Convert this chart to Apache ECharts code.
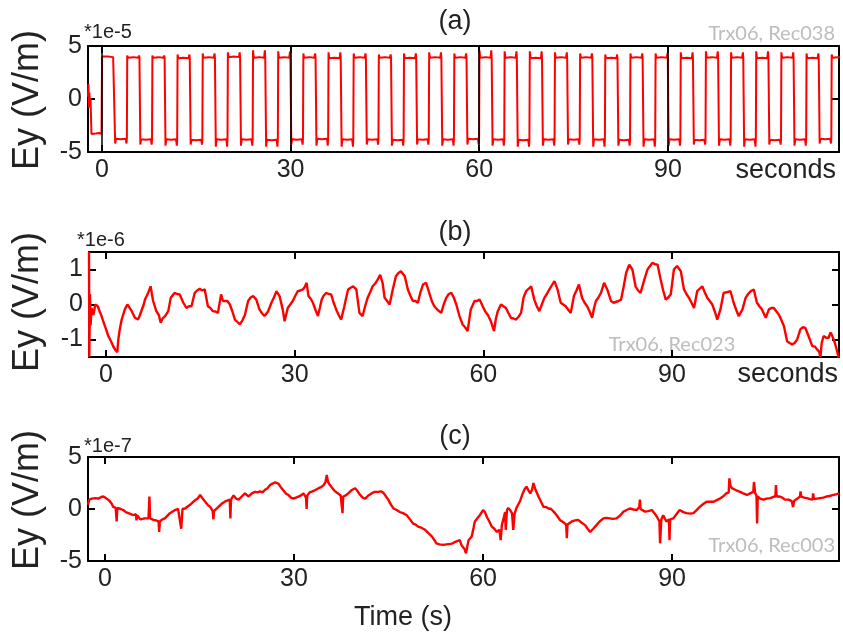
<!DOCTYPE html>
<html><head><meta charset="utf-8">
<script src="https://cdn.jsdelivr.net/npm/echarts@6/dist/echarts.min.js"></script>
<style>html,body{margin:0;padding:0;background:#fff}#c{width:843px;height:641px}</style>
</head><body><div id="c"></div>
<script>
// ---------- tick labels ----------
const xTicks = [0, 30, 60, 90];
const yTicksA = [-5, 0, 5];
const yTicksB = [-1, 0, 1];
const yTicksC = [-5, 0, 5];
const aGuides = [0, 30, 60, 90];

// ---------- panel (a): square-wave transmitter signal (units 1e-5 V/m) ----------
const aStartT = [-2.2, -2.12, -2.05, -1.98, -1.9, -1.8, -1.65, -1.0, -0.4, -0.05];
const aStartV = [0.2, 1.4, -0.8, 0.6, -0.3, 0.1, -3.3, -3.25, -3.2, -3.3];
const aRise = [0, 4, 8, 12, 16, 20, 24, 28, 32, 36, 40, 44, 48, 52, 56, 60, 64, 68, 72, 76, 80, 84, 88, 92, 96, 100, 104, 108, 112, 116];
const aFall = [2, 6, 10, 14, 18, 22, 26, 30, 34, 38, 42, 46, 50, 54, 58, 62, 66, 70, 74, 78, 82, 86, 90, 94, 98, 102, 106, 110, 114, 118];
const aHigh = [3.95, 3.9, 3.9, 3.85, 3.9, 3.95, 3.9, 3.9, 3.9, 3.85, 3.9, 3.9, 3.85, 3.9, 3.9, 3.9, 3.9, 3.85, 3.9, 3.9, 3.85, 3.9, 3.9, 3.85, 3.9, 3.9, 3.85, 3.9, 3.85, 3.9];
const aHighPeak = [4.0, 4.1, 4.1, 4.2, 4.3, 4.4, 4.6, 4.5, 4.3, 4.4, 4.3, 4.2, 4.3, 4.4, 4.3, 4.6, 4.5, 4.5, 4.4, 4.3, 4.2, 4.3, 4.3, 4.4, 4.5, 4.4, 4.5, 4.4, 4.3, 4.2];
const aLow = [-3.75, -3.8, -3.8, -3.85, -3.8, -3.8, -3.85, -3.8, -3.75, -3.8, -3.8, -3.85, -3.8, -3.8, -3.75, -3.8, -3.85, -3.8, -3.8, -3.8, -3.85, -3.8, -3.8, -3.85, -3.8, -3.8, -3.85, -3.8, -3.75, -3.8];
const aLowPeak = [-4.2, -4.3, -4.4, -4.3, -4.5, -4.4, -4.5, -4.3, -4.4, -4.5, -4.3, -4.4, -4.3, -4.4, -4.3, -4.4, -4.5, -4.4, -4.3, -4.5, -4.4, -4.5, -4.4, -4.3, -4.4, -4.5, -4.3, -4.4, -4.2, -4.3];

// ---------- panel (b): Rec023 (units 1e-6 V/m) ----------
const bT = [-2.7,-2.65,-2.55,-2.45,-2.3,-2.0,-1.7,-1.3,-1.0,-0.7,-0.4,-0.16,0.37,0.8,1.16,1.5,1.8,1.96,2.2,2.5,3.0,3.4,3.7,4.1,4.6,5.1,5.4,5.7,6.0,6.2,6.7,7.1,7.3,7.5,8.0,8.4,8.7,9.0,9.4,9.9,10.3,10.9,11.3,11.7,12.3,12.8,13.2,13.6,14.1,14.5,14.9,15.3,15.7,16.2,16.6,17.0,17.4,17.8,18.3,18.6,18.9,19.3,19.7,20.1,20.5,20.9,21.3,21.7,22.1,22.6,23.0,23.4,23.9,24.4,24.8,25.2,25.8,26.3,26.7,27.1,27.6,28.1,28.4,28.9,29.3,29.7,30.1,30.5,30.9,31.3,31.6,31.9,32.2,32.6,32.9,33.3,33.7,34.0,34.3,34.6,35.0,35.4,35.8,36.2,36.6,37.0,37.4,37.9,38.2,38.5,38.9,39.3,39.8,40.3,40.8,41.2,41.6,42.0,42.4,42.8,43.2,43.6,43.8,44.0,44.3,44.7,45.1,45.6,46.1,46.5,46.9,47.2,47.5,48.0,48.4,48.8,49.2,49.6,50.0,50.4,50.9,51.4,51.8,52.2,52.7,53.3,53.7,54.1,54.5,54.9,55.3,55.7,56.2,56.7,57.1,57.5,58.0,58.6,59.0,59.4,59.9,60.3,60.7,61.2,61.7,62.0,62.3,62.8,63.2,63.6,64.0,64.4,64.8,65.2,65.6,66.0,66.4,66.8,67.2,67.6,68.1,68.5,68.9,69.3,69.7,70.1,70.5,70.9,71.3,71.8,72.3,72.7,73.1,73.5,73.9,74.4,74.8,75.2,75.7,76.1,76.5,76.9,77.3,77.6,77.9,78.3,78.7,79.2,79.7,80.3,80.7,81.0,81.5,81.9,82.3,82.7,83.2,83.7,84.2,84.6,85.0,85.6,86.1,86.5,86.9,87.3,87.7,88.2,88.6,89.0,89.4,89.8,90.3,90.8,91.4,91.9,92.3,92.7,93.1,93.5,94.0,94.4,94.8,95.2,95.6,96.0,96.4,96.8,97.2,97.7,98.2,98.7,99.3,99.8,100.2,100.6,101.2,101.7,102.1,102.5,103.0,103.5,103.9,104.3,104.9,105.4,105.8,106.2,106.6,107.0,107.4,107.8,108.3,108.7,109.1,109.5,109.9,110.4,110.8,111.2,111.7,112.3,112.7,113.1,113.4,113.6,113.8,114.1,114.5,114.9,115.2,115.4,115.9,116.2,116.5];
const bV = [1.5,-1.5,0.3,-0.6,-0.1,-0.3,0.0,-0.05,-0.2,-0.33,-0.5,-0.62,-0.9,-1.05,-1.2,-1.3,-1.36,-1.0,-0.7,-0.43,-0.14,0.0,-0.05,-0.19,-0.38,-0.43,-0.3,-0.33,0.0,0.14,0.33,0.52,0.3,0.1,-0.19,-0.3,-0.52,-0.4,-0.33,-0.19,0.19,0.33,0.3,0.29,0.05,-0.1,-0.05,-0.05,0.33,0.4,0.45,0.4,0.43,-0.05,-0.1,-0.19,-0.2,-0.24,0.29,0.1,0.05,0.1,0.0,-0.2,-0.43,-0.5,-0.57,-0.45,-0.29,0.1,0.2,0.24,0.14,-0.14,-0.25,-0.33,-0.19,0.05,0.2,0.38,0.24,-0.14,-0.48,-0.1,0.0,0.1,0.25,0.38,0.4,0.43,0.5,0.62,0.24,0.15,0.05,-0.15,-0.33,-0.1,0.14,0.25,0.33,0.3,0.29,0.05,-0.14,-0.3,-0.43,-0.05,0.2,0.43,0.48,0.52,0.43,-0.24,-0.33,-0.05,0.19,0.35,0.52,0.6,0.71,0.85,0.9,0.6,0.19,0.1,0.0,0.43,0.81,0.9,0.95,0.9,0.81,0.43,0.25,0.1,0.1,0.05,0.35,0.57,0.62,0.33,0.1,-0.05,-0.15,-0.24,0.0,0.19,0.3,0.33,0.2,0.0,-0.33,-0.57,-0.65,-0.76,-0.14,0.1,0.1,0.14,-0.05,-0.2,-0.29,-0.48,-0.76,-0.4,-0.19,0.0,-0.05,-0.1,-0.25,-0.38,-0.4,-0.43,-0.35,-0.24,0.2,0.38,0.45,0.52,0.14,-0.05,-0.19,0.0,0.19,0.3,0.43,0.55,0.67,0.43,0.05,0.0,-0.05,-0.15,-0.24,0.24,0.4,0.57,0.19,0.05,-0.05,-0.2,-0.38,-0.1,0.1,0.2,0.33,0.62,0.43,0.1,0.05,0.0,0.1,0.14,0.5,0.9,1.14,1.0,0.52,0.4,0.33,0.71,1.0,1.1,1.19,1.15,1.14,0.71,0.4,0.14,0.2,0.29,1.0,1.1,0.95,0.43,0.3,0.19,0.05,-0.1,0.38,0.45,0.52,0.35,0.19,0.1,0.0,-0.2,-0.43,-0.14,0.33,0.35,0.38,0.05,-0.15,-0.33,-0.14,0.19,0.3,0.38,0.43,0.05,-0.05,-0.14,-0.38,-0.14,-0.1,-0.1,-0.2,-0.29,-0.45,-0.62,-1.05,-1.1,-1.14,-1.1,-1.0,-0.71,-0.65,-0.67,-0.9,-1.19,-1.2,-1.29,-1.35,-1.5,-1.1,-0.9,-0.95,-0.95,-0.8,-0.86,-1.1,-1.3,-1.52];

// ---------- panel (c): Rec003 (units 1e-7 V/m) ----------
const cT = [-2.7,-2.5,-2.1,-1.5,-1.06,-0.6,-0.26,0.26,0.7,1.06,1.3,1.7,1.85,1.95,2.1,2.5,2.9,3.3,3.7,4.1,4.5,4.9,5.0,5.1,5.6,6.3,6.9,7.05,7.15,7.7,8.1,8.5,8.6,8.7,9.1,9.5,10.3,11.1,11.6,11.9,12.1,12.3,12.7,13.5,14.3,14.7,15.1,15.5,15.9,16.3,16.7,17.1,17.2,17.3,18.0,18.5,19.0,19.4,19.8,19.9,20.0,20.4,20.8,21.2,21.7,22.2,22.8,23.3,23.8,24.2,24.6,25.0,25.4,25.8,26.2,26.6,27.0,27.5,27.9,28.3,28.7,29.1,29.5,29.9,30.3,30.7,31.1,31.5,31.9,32.0,32.1,32.5,32.8,33.3,33.9,34.3,34.7,35.0,35.2,35.4,35.7,36.1,36.5,37.0,37.4,37.6,37.7,37.8,38.2,38.6,39.1,39.7,40.1,40.5,40.9,41.3,41.8,42.3,42.8,43.4,43.8,44.2,44.6,45.0,45.4,45.8,46.3,46.8,47.3,47.9,48.4,48.9,49.3,49.7,50.2,50.8,51.3,51.9,52.3,52.6,53.1,53.7,54.2,54.8,55.2,55.6,55.9,56.3,56.6,56.9,57.1,57.3,57.5,57.7,58.2,58.5,58.7,59.1,59.5,60.0,60.3,60.6,61.0,61.4,61.8,62.2,62.6,62.8,63.0,63.2,63.5,63.6,63.8,64.0,64.3,64.6,64.8,65.0,65.3,65.6,65.9,66.3,66.6,66.9,67.2,67.5,67.8,68.0,68.3,68.8,69.2,69.6,70.0,70.4,70.8,71.2,71.7,72.2,72.8,73.2,73.3,73.4,74.1,74.6,75.1,75.6,76.2,76.6,77.0,77.5,78.0,78.5,79.1,79.6,80.1,80.6,81.2,81.8,82.3,82.8,83.3,83.9,84.4,84.8,84.9,85.0,85.7,86.2,86.8,87.2,87.6,88.0,88.1,88.3,88.6,89.1,89.5,89.6,89.7,90.2,90.7,91.2,91.8,92.3,92.9,93.4,93.9,94.4,95.0,95.5,96.0,96.6,97.1,97.6,98.1,98.6,99.0,99.1,99.3,99.5,100.2,100.8,101.3,101.9,102.4,102.9,103.0,103.2,103.4,103.5,103.6,104.0,104.5,105.0,105.6,106.0,106.4,106.5,106.6,107.1,107.5,107.9,108.5,109.0,109.2,109.4,109.9,110.3,110.4,110.5,111.0,111.4,111.9,112.3,112.4,112.5,113.0,113.5,114.0,114.5,115.0,115.6,116.0,116.5];
const cV = [0.4,0.9,1.0,1.05,1.0,1.15,1.2,1.0,0.8,0.5,0.2,0.1,-1.2,0.1,0.2,0.0,-0.1,-0.3,-0.4,-0.5,-0.6,-0.5,-1.1,-0.6,-1.0,-0.9,-0.9,1.2,-0.9,-1.05,-1.1,-1.2,-2.2,-1.2,-1.0,-0.9,-0.4,-0.1,0.0,0.1,-1.9,0.0,0.05,0.4,0.85,1.0,1.35,1.0,0.7,0.4,0.2,-0.2,-1.0,-0.2,0.2,0.5,0.7,0.8,0.9,-0.9,0.9,1.3,1.0,0.9,1.2,1.5,1.2,1.5,1.65,1.6,1.7,1.6,1.85,2.0,2.3,2.45,2.55,2.45,2.1,1.8,1.5,1.35,1.1,1.0,1.1,1.2,1.3,1.5,1.1,0.0,1.3,1.6,1.7,1.8,2.0,2.1,2.3,2.6,3.27,2.6,2.3,2.0,1.7,1.5,1.3,1.2,-0.4,1.2,1.3,1.5,1.8,2.0,1.7,1.35,1.1,1.0,1.3,1.5,1.65,1.65,1.7,1.55,1.2,0.85,0.4,0.05,-0.1,-0.3,-0.4,-0.6,-1.0,-1.4,-1.5,-1.7,-1.8,-2.0,-2.3,-2.65,-3.0,-3.3,-3.4,-3.45,-3.4,-3.35,-3.3,-3.15,-3.3,-3.0,-3.5,-3.5,-3.9,-4.26,-3.6,-3.0,-2.65,-1.8,-1.2,-0.9,-0.6,-0.1,-0.3,-0.75,-1.2,-1.7,-1.9,-2.2,-2.0,-3.0,-1.5,-1.05,-0.3,-2.0,-0.1,0.1,-0.1,-0.4,-2.0,-0.5,0.1,0.0,0.8,1.5,1.9,2.15,1.8,1.5,1.9,2.5,1.9,1.2,0.7,0.2,0.2,0.05,0.0,-0.25,-0.6,-1.05,-1.3,-1.5,-2.8,-1.5,-1.2,-1.1,-1.05,-1.3,-1.55,-1.9,-2.2,-1.9,-1.55,-1.2,-0.9,-0.85,-0.9,-0.95,-0.9,-0.6,-0.25,-0.1,0.05,-0.05,-0.1,0.2,0.9,0.0,-0.25,-0.2,-0.1,-0.4,-0.75,-1.2,-3.3,-1.0,-0.6,-1.2,-1.0,-3.0,-1.0,-0.9,-0.5,-0.1,-0.3,-0.4,-0.45,-0.4,-0.1,0.2,0.5,0.7,0.7,0.7,0.85,1.0,1.2,1.5,1.6,2.95,2.2,2.0,1.8,1.65,1.5,1.35,1.5,1.65,2.6,1.5,1.3,-1.4,1.2,1.0,0.9,1.0,1.05,1.15,1.2,2.3,1.2,1.2,1.1,0.9,0.9,0.75,0.2,0.8,1.0,1.2,1.7,1.2,1.1,1.05,0.95,0.9,1.5,0.95,1.0,1.05,1.1,1.2,1.25,1.35,1.4,1.5];

// ---------- build series data ----------
function buildA() {
  const d = [];
  for (let i = 0; i < aStartT.length; i++) d.push([aStartT[i], aStartV[i]]);
  for (let i = 0; i < aRise.length; i++) {
    const r = aRise[i], f = aFall[i], H = aHigh[i], L = aLow[i], Hp = aHighPeak[i], Lp = aLowPeak[i];
    const nr = i + 1 < aRise.length ? aRise[i + 1] : f + 2;
    d.push([r + 0.04, Hp], [r + 0.15, H], [r + 1.0, H + 0.05], [f - 0.2, H], [f - 0.08, Hp], [f - 0.02, H],
           [f + 0.12, Lp], [f + 0.25, L], [f + 1.0, L - 0.05], [nr - 0.2, L], [nr - 0.08, Lp], [nr - 0.02, L]);
  }
  return d;
}
const zip = (t, v) => t.map((x, i) => [x, v[i]]);

const FONT = '"Liberation Sans", Arial, sans-serif';
const grids = [
  { left: 88, top: 46, width: 751, height: 106 },
  { left: 89, top: 252, width: 750, height: 105 },
  { left: 88, top: 457, width: 751, height: 104 }
];
const xr = [[-2.2, 117.2], [-2.7, 116.55], [-2.7, 116.5]];
const yr = [[-5, 5], [-1.5, 1.5], [-5, 5]];
const yt = [yTicksA, yTicksB, yTicksC];

const xAxes = [], yAxes = [];
const lineCol = { color: '#000', width: 2 };
for (let g = 0; g < 3; g++) {
  const tickLen = 7;
  xAxes.push({
    gridIndex: g, type: 'value', min: xr[g][0], max: xr[g][1], position: 'bottom',
    axisLine: { show: true, onZero: false, lineStyle: lineCol },
    axisTick: { show: true, inside: true, length: tickLen, customValues: xTicks, lineStyle: lineCol },
    axisLabel: { show: true, customValues: xTicks, fontSize: 25, color: '#222', fontFamily: FONT, margin: 6 },
    splitLine: { show: false }
  });
  xAxes.push({
    gridIndex: g, type: 'value', min: xr[g][0], max: xr[g][1], position: 'top',
    axisLine: { show: true, onZero: false, lineStyle: lineCol },
    axisTick: { show: true, inside: true, length: tickLen, customValues: xTicks, lineStyle: lineCol },
    axisLabel: { show: false }, splitLine: { show: false }
  });
  yAxes.push({
    gridIndex: g, type: 'value', min: yr[g][0], max: yr[g][1], position: 'left',
    axisLine: { show: true, onZero: false, lineStyle: lineCol },
    axisTick: { show: true, inside: true, length: tickLen, customValues: yt[g], lineStyle: lineCol },
    axisLabel: { show: true, customValues: yt[g], fontSize: 25, color: '#222', fontFamily: FONT, margin: 6 },
    splitLine: { show: false }
  });
  yAxes.push({
    gridIndex: g, type: 'value', min: yr[g][0], max: yr[g][1], position: 'right',
    axisLine: { show: true, onZero: false, lineStyle: lineCol },
    axisTick: { show: true, inside: true, length: tickLen, customValues: yt[g], lineStyle: lineCol },
    axisLabel: { show: false }, splitLine: { show: false }
  });
}

const lineSeries = (g, data, w, extra) => Object.assign({
  type: 'line', xAxisIndex: g * 2, yAxisIndex: g * 2, data: data,
  showSymbol: false, symbol: 'none', clip: true, animation: false,
  lineStyle: { color: '#ff0000', width: w }, emphasis: { disabled: true }
}, extra || {});

const txt = (text, x, y, size, opt) => Object.assign({
  type: 'text', x: x, y: y, silent: true,
  style: Object.assign({ text: text, font: size + 'px ' + FONT, fill: '#222',
    align: 'center', textAlign: 'center', verticalAlign: 'middle', textVerticalAlign: 'middle' }, (opt && opt.style) || {})
}, (opt && opt.el) || {});

const grayStyle = (al) => ({ style: { font: '20px Lato, "Open Sans", sans-serif', fill: '#bdbdbd', align: al, textAlign: al } });
const leftStyle = { style: { align: 'left', textAlign: 'left' } };
const rightStyle = { style: { align: 'right', textAlign: 'right' } };
const vert = { el: { rotation: Math.PI / 2 } };

const graphics = [
  txt('Ey (V/m)', 28, 100, 36, vert),
  txt('Ey (V/m)', 28, 302, 36, vert),
  txt('Ey (V/m)', 28, 500, 36, vert),
  txt('(a)', 455, 22, 27),
  txt('(b)', 455, 233, 27),
  txt('(c)', 455, 437, 27),
  txt('*1e-5', 84, 32, 20, leftStyle),
  txt('*1e-6', 77, 240, 20, leftStyle),
  txt('*1e-7', 84, 446, 20, leftStyle),
  txt('Trx06, Rec038', 835, 34, 20, grayStyle('right')),
  txt('Trx06, Rec023', 672, 345, 20, grayStyle('center')),
  txt('Trx06, Rec003', 835, 546, 20, grayStyle('right')),
  txt('seconds', 836, 171, 27, rightStyle),
  txt('seconds', 838, 375, 27, rightStyle),
  txt('Time (s)', 403, 618, 27)
];

const chart = echarts.init(document.getElementById('c'), null, { renderer: 'canvas' });
chart.setOption({
  animation: false,
  backgroundColor: '#fff',
  grid: grids,
  xAxis: xAxes,
  yAxis: yAxes,
  series: [
    lineSeries(0, buildA(), 2, {
      markLine: {
        silent: true, symbol: 'none', animation: false,
        label: { show: false },
        lineStyle: { color: '#000', width: 1.5, type: 'solid' },
        data: aGuides.map(v => ({ xAxis: v }))
      }
    }),
    lineSeries(1, zip(bT, bV), 2.4),
    lineSeries(2, zip(cT, cV), 2.4)
  ],
  graphic: graphics
});
</script>
</body></html>
